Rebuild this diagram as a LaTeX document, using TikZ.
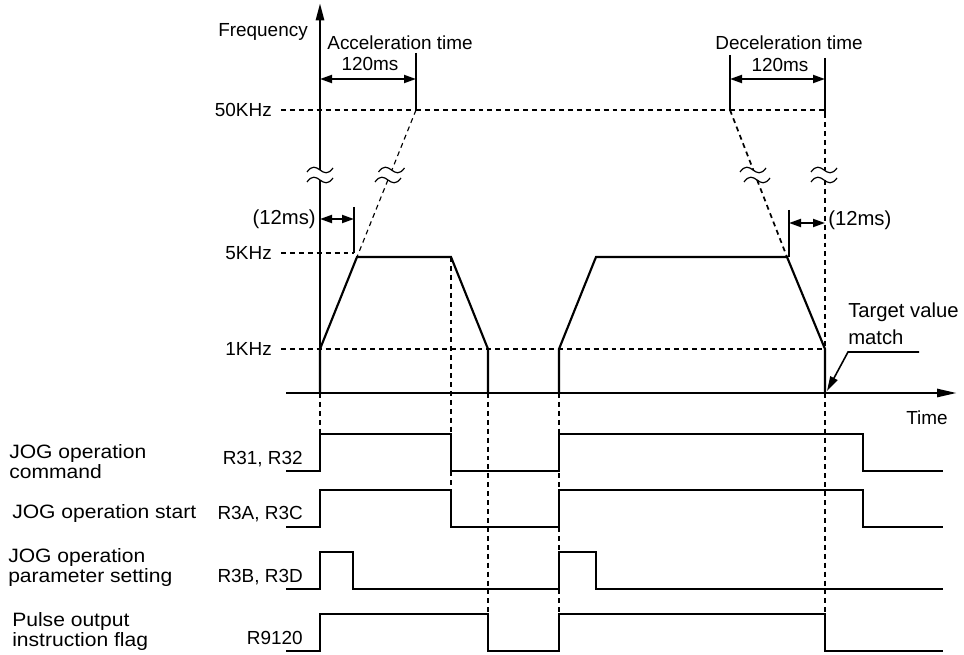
\documentclass[tikz,border=0pt]{standalone}
\usepackage{fontspec}
\setmainfont{Liberation Sans}
\newfontfamily\widefont[FakeStretch=1.09]{Liberation Sans}
\usetikzlibrary{arrows.meta}
\tikzset{
  txt/.style={font=\fontsize{14.2}{16}\selectfont, inner sep=0pt},
  bigtxt/.style={font=\fontsize{15.2}{16}\selectfont, inner sep=0pt},
  lbl/.style={font=\widefont\fontsize{14.5}{15}\selectfont, inner sep=0pt, align=left, anchor=west},
  sig/.style={line width=1.5pt, line join=miter},
  wave/.style={line width=1.6pt, line join=miter},
  axisline/.style={line width=2pt},
  dsh/.style={line width=0.85pt, dash pattern=on 3.7pt off 3pt},
  dshthick/.style={line width=1.3pt, dash pattern=on 3.7pt off 3pt},
  dimarr/.style={line width=1.4pt, {Triangle[length=9pt,width=6pt]}-{Triangle[length=9pt,width=6pt]}},
  ticks/.style={line width=1.2pt},
  brk/.pic={\draw[line width=0.9pt] (-13,2) .. controls (-8,-5) and (-4,-3) .. (0,0) .. controls (4,3) and (8,5) .. (13,-2);},
}
\begin{document}
\begin{tikzpicture}[x=0.75pt,y=-0.75pt]
\useasboundingbox (0,0) rectangle (964,655);

% axes
\coordinate (ytop) at (320,3);
\coordinate (ybrkA) at (320,170);
\coordinate (ybrkB) at (320,180);
\coordinate (O) at (320,393);
\coordinate (xstart) at (286,393);
\coordinate (xend) at (957,393);
\draw[axisline] (O) -- (ybrkB);
\draw[axisline,-{Triangle[length=13pt,width=6pt]}] (ybrkA) -- (ytop);
\draw[axisline,-{Triangle[length=15pt,width=6pt]}] (xstart) -- (xend);
\pic at (320,170) {brk};
\pic at (320,180) {brk};

\node[txt,anchor=east] (freq) at (308,32) {Frequency};
\node[txt] (time) at (927,418) {Time};

% frequency levels
\node[txt,anchor=east] (f50) at (272,110) {50KHz};
\node[txt,anchor=east] (f5) at (272,253) {5KHz};
\node[txt,anchor=east] (f1) at (272,349) {1KHz};
\draw[dsh] (281,110) -- (416,110);
\draw[dshthick] (416,110) -- (730,110);
\draw[dsh] (730,110) -- (825,110);
\draw[dsh] (281,253) -- (354,253);
\draw[dsh] (281,349) -- (825,349);

% theoretical slopes
\draw[dsh] (416,110) -- (391.9,170);
\draw[dsh] (387.9,180) -- (357,257);
\pic at (391.5,170) {brk};
\pic at (388,180) {brk};
\draw[dshthick] (730,110) -- (753.3,170);
\draw[dshthick] (757.1,180) -- (787,257);
\pic at (753,170) {brk};
\pic at (757,180) {brk};
\draw[dsh] (825,113) -- (825,170);
\draw[dsh] (825,180) -- (825,349);
\pic at (824,170) {brk};
\pic at (824,180) {brk};

% trapezoids
\draw[wave] (320,393) -- (320,349) -- (357,257) -- (451,257) -- (488,349) -- (488,393);
\draw[wave] (559,393) -- (559,349) -- (596,257) -- (787,257) -- (825,349) -- (825,393);

% acceleration dimension
\coordinate (accR) at (416,79);
\coordinate (accL) at (320,79);
\draw[ticks] (416,53) -- (416,110);
\draw[dimarr] (accL) -- (accR);
\node[txt] (acct) at (400,43) {Acceleration time};
\node[txt] (accv) at (370,64) {120ms};

% deceleration dimension
\coordinate (decL) at (730,79);
\coordinate (decR) at (825,79);
\draw[ticks] (730,55) -- (730,110);
\draw[ticks] (825,58) -- (825,113);
\draw[dimarr] (decL) -- (decR);
\node[txt] (dect) at (789,43) {Deceleration time};
\node[txt] (decv) at (780,65) {120ms};

% 12ms dimensions
\draw[ticks] (354,207) -- (354,253);
\coordinate (a12L) at (320,219);
\coordinate (a12R) at (354,219);
\draw[dimarr] (a12L) -- (a12R);
\node[bigtxt,anchor=east] (t12a) at (316,219) {(12ms)};
\draw[ticks] (789,210) -- (789,257);
\coordinate (d12L) at (789,223);
\coordinate (d12R) at (825,223);
\draw[dimarr] (d12L) -- (d12R);
\node[bigtxt,anchor=west] (t12d) at (828,220) {(12ms)};

% target value match
\node[bigtxt,anchor=west] (tv1) at (848,312) {Target value};
\node[bigtxt,anchor=west] (tv2) at (848,337) {match};
\coordinate (tvA) at (919,352);
\coordinate (tvB) at (848,352);
\coordinate (tvC) at (827,391);
\draw[line width=1.2pt,-{Triangle[length=11pt,width=6pt]}] (tvA) -- (tvB) -- (tvC);

% dashed time markers
\draw[dsh] (320,393) -- (320,434);
\draw[dsh] (451,257) -- (451,490);
\draw[dsh] (488,393) -- (488,614);
\draw[dsh] (559,393) -- (559,614);
\draw[dsh] (825,393) -- (825,614);

% signals
\draw[sig] (286,471) -- (320,471) -- (320,434) -- (451,434) -- (451,471) -- (559,471) -- (559,434) -- (863,434) -- (863,471) -- (943,471);
\draw[sig] (286,527) -- (320,527) -- (320,490) -- (451,490) -- (451,527) -- (559,527) -- (559,490) -- (863,490) -- (863,527) -- (943,527);
\draw[sig] (286,589) -- (320,589) -- (320,552) -- (353,552) -- (353,589) -- (559,589) -- (559,552) -- (596,552) -- (596,589) -- (943,589);
\draw[sig] (286,651) -- (320,651) -- (320,614) -- (488,614) -- (488,651) -- (559,651) -- (559,614) -- (825,614) -- (825,651) -- (943,651);

\node[txt,anchor=east] (r31) at (303,459) {R31, R32};
\node[txt,anchor=east] (r3a) at (303,514) {R3A, R3C};
\node[txt,anchor=east] (r3b) at (303,577) {R3B, R3D};
\node[txt,anchor=east] (r91) at (303,638) {R9120};

\node[lbl] (l1) at (9,462) {JOG operation\\command};
\node[lbl] (l2) at (12,514) {JOG operation start};
\node[lbl] (l3) at (8,567.5) {JOG operation\\parameter setting};
\node[lbl] (l4) at (12,631.5) {Pulse output\\instruction flag};
\end{tikzpicture}
\end{document}
